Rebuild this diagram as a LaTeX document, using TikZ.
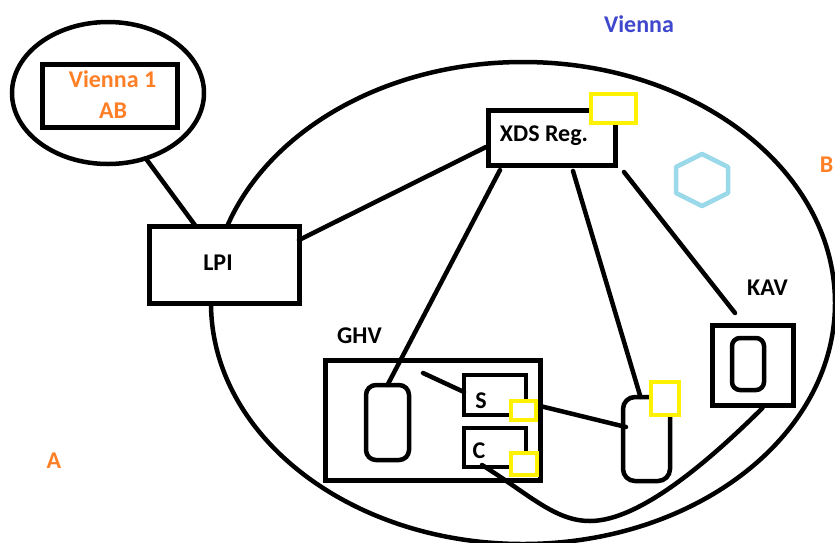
\documentclass[tikz,border=0pt]{standalone}
\usepackage{fontspec}
\setmainfont{Carlito}
\usetikzlibrary{shapes.geometric,calc}
\definecolor{paintorange}{HTML}{FF7F27}
\definecolor{paintblue}{HTML}{3F48CC}
\definecolor{paintyellow}{HTML}{FFF200}
\definecolor{hexblue}{HTML}{99D9EA}
\begin{document}
\begin{tikzpicture}[x=1pt,y=-1pt,
  ring/.style 2 args={ellipse, draw, line width=4.5pt, minimum width=#1, minimum height=#2, inner sep=0pt, outer sep=0pt},
  box/.style 2 args={rectangle, draw, fill=white, line width=5pt, minimum width=#1, minimum height=#2, inner sep=0pt, outer sep=0pt},
  pill/.style 2 args={box={#1}{#2}, line width=4.5pt, rounded corners=10pt},
  ybox/.style 2 args={rectangle, draw=paintyellow, fill=white, line width=4.5pt, minimum width=#1, minimum height=#2, inner sep=0pt, outer sep=0pt},
  txt/.style={font=\fontsize{24}{28}\selectfont\bfseries, anchor=base, inner sep=0pt},
  wire/.style={line width=4.5pt, line cap=round}]
\useasboundingbox (0,0) rectangle (835,542);
\fill[white] (0,0) rectangle (835,542);

% region outlines
\node[ring={624pt}{482pt}] (vienna) at (523,303) {};
\node[ring={192pt}{142pt}] (se) at (108,93) {};

% boxes
\node[box={135pt}{63pt}] (vab) at (110,96) {};
\node[box={215pt}{120pt}] (ghv) at (432.5,420) {};
\node[pill={43pt}{75pt}] (gin) at (387.5,422.5) {};
\node[box={62pt}{40pt}, line width=4.5pt] (sbox) at (495,395) {};
\node[box={62pt}{39pt}, line width=4.5pt] (cbox) at (495,447.5) {};
\node[box={81pt}{80pt}] (kav) at (752.5,365) {};
\node[pill={32pt}{52pt}, rounded corners=8pt] (kin) at (748,364) {};
\node[pill={47pt}{84pt}, rounded corners=12pt] (rr) at (646.5,439) {};
\node[box={127pt}{55pt}] (xds) at (551.5,137.5) {};
\node[box={150pt}{77pt}] (lpi) at (224,264.5) {};

% connectors
\coordinate (dip) at (590,521);
\draw[wire] (se.-60) -- (lpi);
\draw[wire] ($(lpi.north east)+(0,14)$) -- ($(xds.south west)+(-2,-18)$);
\draw[wire] ($(xds.south west)+(12,5)$) -- (gin.north);
\draw[wire] ($(xds.south west)+(85,6)$) -- ($(rr.north)+(-6,0)$);
\draw[wire] ($(xds.south east)+(9,7)$) -- ($(kav.north west)+(23,-12)$);
\draw[wire] ($(gin.north east)+(14,-12)$) -- ($(sbox.west)+(0,-3)$);
\draw[wire] ($(sbox.south east)+(10,-10)$) -- ($(rr.west)+(3,-12)$);
\draw[wire] ($(cbox.south)+(-13,-2)$) .. controls (530,495) and (555,521) .. (dip)
  .. controls (640,521) and (710,460) .. ($(kav.south)+(10,3)$);

% yellow markers
\node[ybox={45pt}{29pt}] (xy) at (613.5,108.5) {};
\node[ybox={25pt}{19pt}] (sy) at (523.5,410.5) {};
\node[ybox={26pt}{22pt}] (cy) at (524,464) {};
\node[ybox={28pt}{33pt}] (ry) at (665,398.5) {};

% hexagon
\draw[hexblue, line width=4.5pt, line join=round]
  (702,154) -- (728,167) -- (728,193) -- (702,206) -- (676,193) -- (676,167) -- cycle;

% labels
\node[txt, text=paintorange] (vab1) at (112.5,87) {Vienna 1};
\node[txt, text=paintorange] (vab2) at (113,118) {AB};
\node[txt] (lpitext) at (218,270) {LPI};
\node[txt] (xdstext) at (544,141) {XDS Reg.};
\node[txt] (ghvtext) at (359.5,343) {GHV};
\node[txt] (stext) at (481,408) {S};
\node[txt] (ctext) at (479,458) {C};
\node[txt] (kavtext) at (767.5,295) {KAV};
\node[txt, text=paintblue] (viennatext) at (639,32) {Vienna};
\node[txt, text=paintorange] (atext) at (54,468) {A};
\node[txt, text=paintorange] (btext) at (826.5,172) {B};
\end{tikzpicture}
\end{document}
